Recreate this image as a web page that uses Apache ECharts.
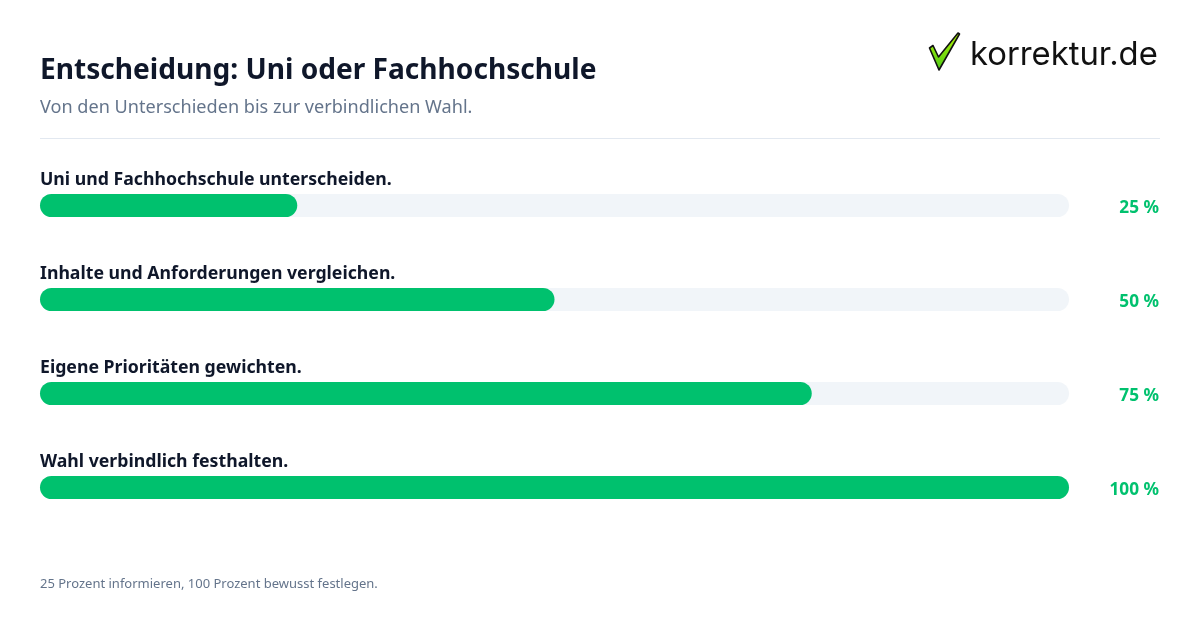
<!DOCTYPE html>
<html>
<head>
<meta charset="utf-8">
<style>
    html, body { margin: 0; padding: 0; background: #fff; }
    #chart { width: 1200px; height: 630px; }
</style>
<script src="https://cdn.jsdelivr.net/npm/echarts@6/dist/echarts.min.js"></script>
</head>
<body>
<div id="chart"></div>
<script>
    var steps = [
        'Uni und Fachhochschule unterscheiden.',
        'Inhalte und Anforderungen vergleichen.',
        'Eigene Prioritäten gewichten.',
        'Wahl verbindlich festhalten.'
    ];
    var percents = [25, 50, 75, 100];

    var FONT = '"Noto Sans", sans-serif';
    var GREEN = '#00c16e';

    var myChart = echarts.init(document.getElementById('chart'), null, { renderer: 'canvas' });

    var option = {
        animation: false,
        backgroundColor: '#ffffff',
        title: [
            {
                text: 'Entscheidung: Uni oder Fachhochschule',
                left: 40, top: 57, padding: 0,
                textStyle: { fontFamily: FONT, fontSize: 28.1, fontWeight: 700, color: '#0f172a' }
            },
            {
                text: 'Von den Unterschieden bis zur verbindlichen Wahl.',
                left: 40, top: 99, padding: 0,
                textStyle: { fontFamily: FONT, fontSize: 18.1, fontWeight: 400, color: '#64748b' }
            },
            {
                text: '25 Prozent informieren, 100 Prozent bewusst festlegen.',
                left: 40, top: 578, padding: 0,
                textStyle: { fontFamily: FONT, fontSize: 13, fontWeight: 400, color: '#64748b' }
            }
        ],
        grid: { left: 40, top: 158.5, width: 1029, height: 376 },
        xAxis: { type: 'value', min: 0, max: 100, show: false },
        yAxis: [
            {
                type: 'category',
                data: steps,
                inverse: true,
                axisLine: { show: false },
                axisTick: { show: false },
                axisLabel: { show: false },
                splitLine: { show: false }
            },
            {
                type: 'category',
                position: 'right',
                data: percents.map(function (p) { return p + ' %'; }),
                inverse: true,
                axisLine: { show: false },
                axisTick: { show: false },
                splitLine: { show: false },
                axisLabel: {
                    show: true,
                    margin: 90,
                    width: 90,
                    align: 'right',
                    verticalAlign: 'top',
                    lineHeight: 6,
                    fontFamily: FONT,
                    fontSize: 17.2,
                    fontWeight: 700,
                    color: GREEN
                }
            }
        ],
        series: [
            {
                type: 'bar',
                data: percents,
                barWidth: 23,
                itemStyle: { color: GREEN, borderRadius: 11.5 },
                showBackground: true,
                backgroundStyle: { color: '#f1f5f9', borderRadius: 11.5 },
                label: {
                    show: true,
                    position: [0, -23],
                    formatter: function (p) { return steps[p.dataIndex]; },
                    fontFamily: FONT,
                    fontSize: 17.7,
                    fontWeight: 700,
                    color: '#0f172a'
                }
            }
        ],
        graphic: [
            {
                type: 'line',
                shape: { x1: 40, y1: 138.5, x2: 1160, y2: 138.5 },
                style: { stroke: '#e2e8f0', lineWidth: 1 }
            },
            {
                type: 'polygon',
                shape: { points: [[929.5, 48], [933, 45.5], [938.5, 57], [958, 33], [959.5, 34], [939, 70]] },
                style: {
                    fill: new echarts.graphic.LinearGradient(0, 0, 0, 1, [
                        { offset: 0, color: '#b4f500' },
                        { offset: 1, color: '#4cc81a' }
                    ]),
                    stroke: '#111111',
                    lineWidth: 1.6,
                    lineJoin: 'round'
                }
            },
            {
                type: 'text',
                left: 970, top: 39,
                style: { text: 'korrektur.de', fontFamily: 'Inter, sans-serif', fontSize: 32.8, fontWeight: 400, fill: '#111111' }
            }
        ]
    };
    myChart.setOption(option);
</script>
</body>
</html>
